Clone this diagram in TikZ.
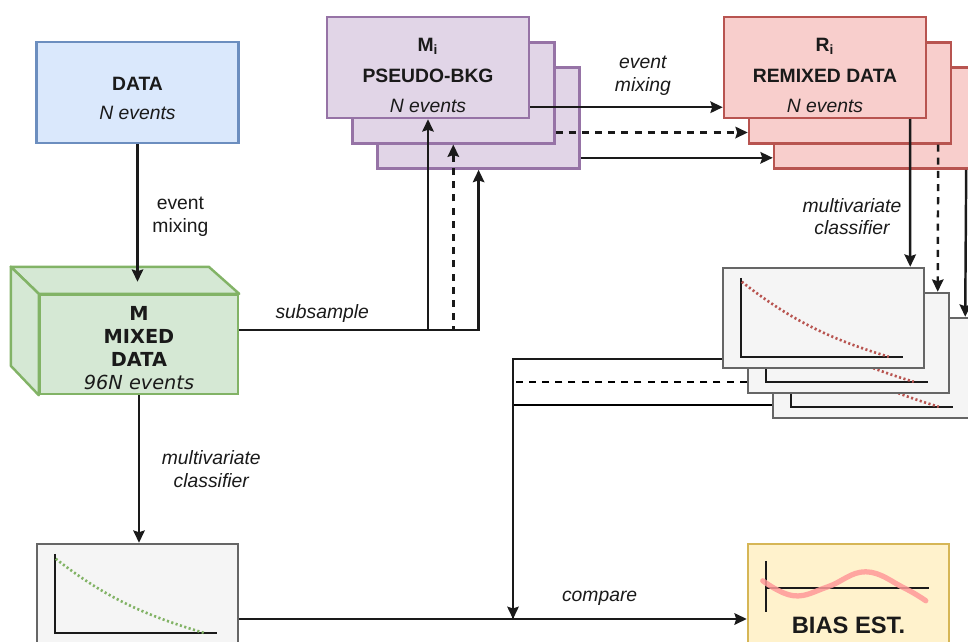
\documentclass[tikz,border=0pt]{standalone}
\usepackage{fontspec}
\setmainfont{Liberation Sans}
\newfontfamily\cubefont{DejaVu Sans}
\usetikzlibrary{arrows.meta}

\definecolor{ink}{HTML}{1A1A1A}
\definecolor{datafill}{HTML}{DAE8FC}
\definecolor{dataline}{HTML}{6C8EBF}
\definecolor{mixfill}{HTML}{D5E8D4}
\definecolor{mixline}{HTML}{82B366}
\definecolor{pseudofill}{HTML}{E1D5E7}
\definecolor{pseudoline}{HTML}{9673A6}
\definecolor{remixfill}{HTML}{F8CECC}
\definecolor{remixline}{HTML}{B85450}
\definecolor{clffill}{HTML}{F5F5F5}
\definecolor{clfline}{HTML}{666666}
\definecolor{biasfill}{HTML}{FFF2CC}
\definecolor{biasline}{HTML}{D6B656}
\definecolor{wavecol}{HTML}{FF9999}

\begin{document}
\begin{tikzpicture}[x=0.02cm, y=-0.02cm, line width=1.4pt,
        every node/.style={font=\fontsize{11}{13}\selectfont, text=ink},
        plainbox/.style={rectangle, inner sep=0pt, align=center, minimum width=4.04cm, minimum height=2.02cm},
        databox/.style={plainbox, draw=dataline, fill=datafill},
        mixbox/.style={plainbox, draw=mixline, fill=mixfill, minimum width=3.96cm, minimum height=1.98cm, font=\cubefont\fontsize{11}{13}\selectfont},
        pseudobox/.style={plainbox, draw=pseudoline, fill=pseudofill},
        remixbox/.style={plainbox, draw=remixline, fill=remixfill},
        clfbox/.style={plainbox, draw=clfline, fill=clffill, minimum width=4.02cm, minimum height=2cm},
        biasbox/.style={plainbox, draw=biasline, fill=biasfill, minimum width=4.02cm, minimum height=3cm, font=\fontsize{13.5}{16}\selectfont\bfseries},
        flow/.style={draw=ink, -{Stealth[length=7pt,width=6.5pt,inset=1pt]}},
        dashline/.style={dash pattern=on 4pt off 3.5pt},
        lbl/.style={align=center, font=\fontsize{11}{13}\selectfont\itshape},
        plainlbl/.style={align=center},
        axisline/.style={draw=ink, line width=1.3pt},
        fitred/.style={draw=remixline, line width=1.5pt, dash pattern=on 1.2pt off 1.4pt},
        fitgreen/.style={draw=mixline, line width=1.5pt, dash pattern=on 1.2pt off 1.4pt},
        biascurve/.style={draw=wavecol, line width=3pt, opacity=0.85, line cap=round},
    ]
        \clip (0,0) rectangle (968,642);

        %Nodes
        \node[databox] (data) at (137.5,92.5) {\rule{0pt}{14.4pt}\textbf{DATA}\\[4pt]\textit{N events}};

        \node[mixbox] (mixed) at (139,344.5) {\rule{0pt}{12pt}\textbf{M}\\\textbf{MIXED}\\\textbf{DATA}\\\textit{96N events}};
        \filldraw[draw=mixline, fill=mixfill, line join=round] (mixed.north west) -- ++(-28,-27) -- ++(198,0) -- (mixed.north east) -- cycle;
        \filldraw[draw=mixline, fill=mixfill, line join=round] (mixed.north west) -- ++(-28,-27) -- ++(0,99) -- (mixed.south west) -- cycle;
        \coordinate (mixtop) at ([yshift=0.24cm]mixed.north);

        % stacked copies
        \foreach \k in {2,1}{
            \node[pseudobox] (mi\k) at (428+25.3*\k, 67.5+25.3*\k) {};
            \node[remixbox] (ri\k) at (825+25*\k, 67.5+25.3*\k) {};
        }
        \node[pseudobox] (mi0) at (428,67.5) {\rule{0pt}{16.5pt}\textbf{M\textsubscript{i}}\\[5pt]\textbf{PSEUDO-BKG}\\[4pt]\textit{N events}};
        \node[remixbox] (ri0) at (825,67.5) {\rule{0pt}{16.5pt}\textbf{R\textsubscript{i}}\\[5pt]\textbf{REMIXED DATA}\\[4pt]\textit{N events}};

        \foreach \k in {2,1,0}{
            \node[clfbox] (cl\k) at (823.5+25*\k, 318+25*\k) {};
            \begin{scope}[shift={(cl\k.north west)}]
                \draw[axisline] (19,11) -- (19,90) -- (181,90);
                \draw[fitred] (20,15) .. controls (67,52) and (107,72) .. (167,90);
            \end{scope}
        }

        \node[clfbox, minimum height=3cm] (clres) at (137.5,619) {};
        \begin{scope}[shift={(clres.north west)}]
            \draw[axisline] (19,11) -- (19,90) -- (181,90);
            \draw[fitgreen] (20,16) .. controls (67,53) and (107,72) .. (168,90);
        \end{scope}

        \node[biasbox] (bias) at (848.5,619) {BIAS EST.\rule{0pt}{16.5pt}};
        \begin{scope}[shift={(bias.north west)}]
            \draw[axisline] (19,18) -- (19,69);
            \draw[axisline] (19,45) -- (182,45);
            \draw[biascurve] plot[smooth, tension=0.7] coordinates {(16,38) (47,53) (81,44) (119,29) (157,45) (179,58)};
        \end{scope}

        \coordinate (cmp) at (513,0 |- clres.east);

        %Lines
        \draw[flow] (data) -- (data.south |- mixtop) node[plainlbl, pos=0.53, right=4.5pt] {event\\mixing};
        \draw[flow] (mixed) -- (mixed.south |- clres.north) node[lbl, midway, right=9pt] {multivariate\\classifier};

        \foreach \k/\sty in {1/dashline,2/solid}{
            \draw[flow,\sty] ([yshift=0.29cm]mixed.east) -| (mi\k.south);
        }
        \draw[flow] ([yshift=0.29cm]mixed.east) -| node[lbl, pos=0.22, above] {subsample} (mi0.south);

        \draw[flow] ([yshift=0.24cm]mi0.south east) -- node[lbl, pos=0.585, above=2.5pt] {event\\mixing} ([yshift=0.24cm]ri0.south west);
        \foreach \k/\sty in {1/dashline,2/solid}{
            \draw[flow,\sty] ([yshift=0.24cm]mi\k.south east) -- ([yshift=0.24cm]ri\k.south west);
        }

        \draw[flow] ([xshift=-0.34cm]ri0.south east) -- node[lbl, pos=0.66, left=1pt] {multivariate\\classifier} ([xshift=-0.30cm]cl0.north east);
        \foreach \k/\sty in {1/dashline,2/solid}{
            \draw[flow,\sty] ([xshift={-0.34cm+0.06cm*\k}]ri\k.south east) -- ([xshift={-0.30cm+0.05cm*\k}]cl\k.north east);
        }

        \foreach \k/\sty in {2/solid,1/dashline}{
            \draw[\sty] ([yshift={0.2cm+0.04cm*\k}]cl\k.south west) -| (cmp);
        }
        \draw[flow] ([yshift=0.2cm]cl0.south west) -| (cmp);

        \draw[flow] (clres) -- node[lbl, pos=0.71, above=3.5pt] {compare} (bias);
\end{tikzpicture}
\end{document}
